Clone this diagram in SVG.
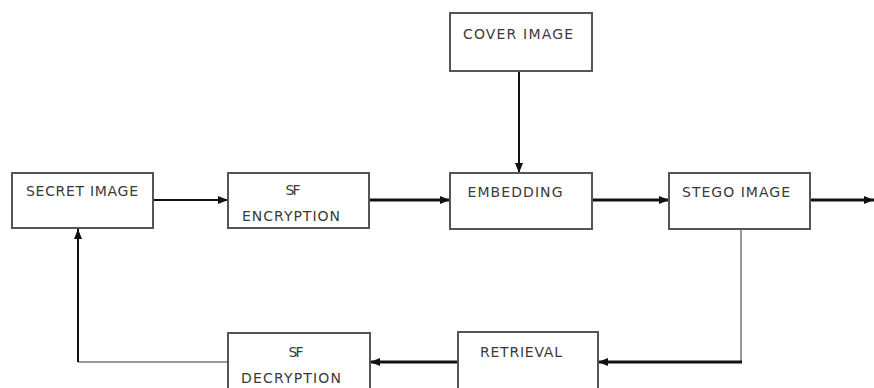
<svg xmlns="http://www.w3.org/2000/svg" width="874" height="388" viewBox="0 0 874 388">
<style>
.box{fill:#fff;stroke:#555;stroke-width:2}
.lbl{font-family:"DejaVu Sans","Liberation Sans",sans-serif;font-size:14px;fill:#3a3a3a;text-anchor:middle}
.c{fill:none;stroke:#111}
.thin{fill:none;stroke:#777;stroke-width:1.5}
</style>
<defs>
<marker id="ah" viewBox="0 0 10 8" refX="10" refY="4" markerWidth="10" markerHeight="8" markerUnits="userSpaceOnUse" orient="auto">
<path d="M0,0 L10,4 L0,8 Z" fill="#111"/>
</marker>
</defs>
<rect width="874" height="388" fill="#fff"/>
<g id="connectors">
<line class="c" x1="154" y1="200" x2="228" y2="200" stroke-width="2" marker-end="url(#ah)"/>
<line class="c" x1="370" y1="200" x2="450" y2="200" stroke-width="3" marker-end="url(#ah)"/>
<line class="c" x1="519" y1="71" x2="519" y2="173" stroke-width="2" marker-end="url(#ah)"/>
<line class="c" x1="593" y1="200" x2="669" y2="200" stroke-width="3" marker-end="url(#ah)"/>
<line class="c" x1="811" y1="200" x2="874" y2="200" stroke-width="3" marker-end="url(#ah)"/>
<line class="thin" x1="741" y1="229" x2="741" y2="362"/>
<line class="c" x1="742" y1="362" x2="598" y2="362" stroke-width="3" marker-end="url(#ah)"/>
<line class="c" x1="458" y1="362" x2="370" y2="362" stroke-width="3" marker-end="url(#ah)"/>
<line class="thin" x1="228" y1="362" x2="78" y2="362"/>
<line class="c" x1="78" y1="362" x2="78" y2="229" stroke-width="2" marker-end="url(#ah)"/>
</g>
<g id="secret-image">
<rect class="box" x="12" y="173" width="141" height="55"/>
<text class="lbl" x="82" y="196" textLength="112">SECRET IMAGE</text>
</g>
<g id="sf-encryption">
<rect class="box" x="228" y="173" width="141" height="55"/>
<text class="lbl" x="293" y="195" textLength="15">SF</text>
<text class="lbl" x="291" y="221" textLength="98">ENCRYPTION</text>
</g>
<g id="cover-image">
<rect class="box" x="450" y="13" width="142" height="58"/>
<text class="lbl" x="518" y="39" textLength="110">COVER IMAGE</text>
</g>
<g id="embedding">
<rect class="box" x="450" y="173" width="142" height="56"/>
<text class="lbl" x="515" y="197" textLength="95">EMBEDDING</text>
</g>
<g id="stego-image">
<rect class="box" x="669" y="173" width="141" height="56"/>
<text class="lbl" x="736" y="197" textLength="108">STEGO IMAGE</text>
</g>
<g id="retrieval">
<rect class="box" x="458" y="332" width="140" height="60"/>
<text class="lbl" x="521" y="357" textLength="82">RETRIEVAL</text>
</g>
<g id="sf-decryption">
<rect class="box" x="228" y="333" width="142" height="60"/>
<text class="lbl" x="296" y="357" textLength="15">SF</text>
<text class="lbl" x="291" y="383" textLength="100">DECRYPTION</text>
</g>
</svg>
